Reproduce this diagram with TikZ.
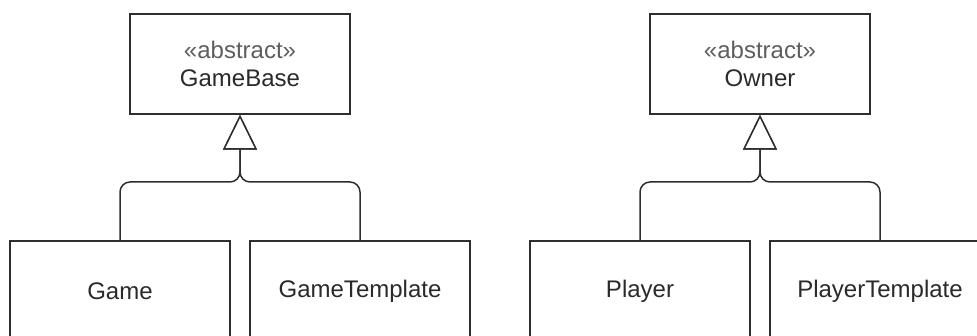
\documentclass[tikz,border=0pt]{standalone}
\usepackage{fontspec}
\setmainfont{Liberation Sans}
\usetikzlibrary{arrows.meta}
\definecolor{linecol}{HTML}{2E2E2E}
\definecolor{txtcol}{HTML}{2A2A2A}
\definecolor{stereocol}{HTML}{5E5E5E}
\tikzset{
  classbox/.style={draw=linecol, line width=1.5pt, fill=white, minimum width=220pt, minimum height=100pt, inner sep=0pt, align=center, text=txtcol, font=\fontsize{24}{28.5}\selectfont},
  inherit/.style={draw=linecol, line width=1.5pt, rounded corners=10pt, -{Triangle[open, length=35pt, width=34pt, line width=1.5pt, fill=white]}},
}
\begin{document}
\begin{tikzpicture}[x=1pt, y=-1pt]
\useasboundingbox (0,0) rectangle (977,336);
\node[classbox] (gamebase) at (240,64) {{\color{stereocol}«abstract»}\\GameBase};
\node[classbox] (owner) at (760,64) {{\color{stereocol}«abstract»}\\Owner};
\node[classbox] (game) at (120,291) {Game};
\node[classbox] (gametemplate) at (360,291) {GameTemplate};
\node[classbox] (player) at (640,291) {Player};
\node[classbox] (playertemplate) at (880,291) {PlayerTemplate};
\coordinate (jg) at (240,182);
\coordinate (jo) at (760,182);
\draw[inherit] (game.north) |- (jg) -- (gamebase.south);
\draw[inherit] (gametemplate.north) |- (jg) -- (gamebase.south);
\draw[inherit] (player.north) |- (jo) -- (owner.south);
\draw[inherit] (playertemplate.north) |- (jo) -- (owner.south);
\end{tikzpicture}
\end{document}
